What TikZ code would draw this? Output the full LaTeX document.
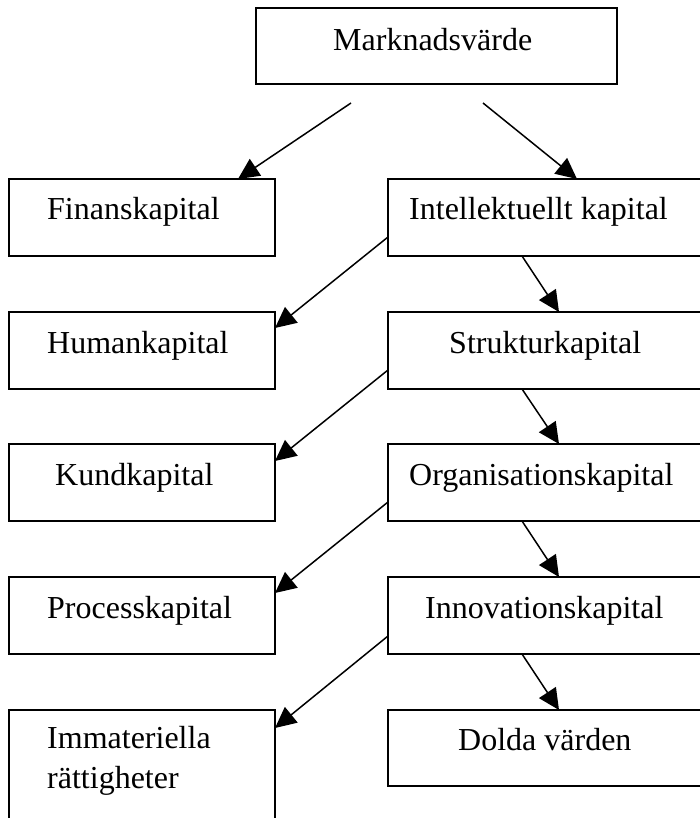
\documentclass[tikz,border=0pt]{standalone}
\usepackage{fontspec}
\setmainfont{Liberation Serif}
\usetikzlibrary{arrows.meta,calc}
\begin{document}
\begin{tikzpicture}[x=1pt,y=-1pt,
  box/.style={draw,line width=1.9pt,rectangle,inner sep=0pt,outer sep=0pt,anchor=north west},
  leftbox/.style={box,minimum width=266pt,minimum height=77pt},
  rightbox/.style={box,minimum width=322pt,minimum height=77pt},
  boxtext/.style={anchor=base west,inner sep=0pt,font=\fontsize{32}{40}\selectfont},
  link/.style={line width=1.5pt,-{Triangle[length=21pt,width=20pt]}}]
\useasboundingbox (0,0) rectangle (700,818);

% boxes
\node[box,minimum width=361pt,minimum height=76pt] (marknad) at (256,8) {};
\node[leftbox]  (finans)   at (9,179)   {};
\node[rightbox] (intel)    at (388,179) {};
\node[leftbox]  (human)    at (9,312)   {};
\node[rightbox] (struktur) at (388,312) {};
\node[leftbox]  (kund)     at (9,444)   {};
\node[rightbox] (organ)    at (388,444) {};
\node[leftbox]  (process)  at (9,577)   {};
\node[rightbox] (innov)    at (388,577) {};
\node[leftbox,minimum height=140pt] (immat) at (9,710) {};
\node[rightbox,minimum height=76pt] (dolda) at (388,710) {};

% labels
\node[boxtext] (marknad-t)  at (333,51)  {Marknadsvärde};
\node[boxtext] (finans-t)   at (47,220)  {Finanskapital};
\node[boxtext] (intel-t)    at (409,220) {Intellektuellt kapital};
\node[boxtext] (human-t)    at (47,353)  {Humankapital};
\node[boxtext] (struktur-t) at (449,353) {Strukturkapital};
\node[boxtext] (kund-t)     at (55,485)  {Kundkapital};
\node[boxtext] (organ-t)    at (409,485) {Organisationskapital};
\node[boxtext] (process-t)  at (47,618)  {Processkapital};
\node[boxtext] (innov-t)    at (425,618) {Innovationskapital};
\node[boxtext] (immat-t1)   at (47,748)  {Immateriella};
\node[boxtext] (immat-t2)   at (47,788)  {rättigheter};
\node[boxtext] (dolda-t)    at (458,750) {Dolda värden};

% free starting points of the connectors
\coordinate (m-left)  at ($(marknad.south west)+(95,19)$);
\coordinate (m-right) at ($(marknad.south west)+(227,19)$);
\coordinate (i-side)  at ($(intel.south west)+(0,-19)$);
\coordinate (s-side)  at ($(struktur.south west)+(0,-19)$);
\coordinate (o-side)  at ($(organ.south west)+(0,-19)$);
\coordinate (n-side)  at ($(innov.south west)+(0,-18)$);

% connectors
\draw[link] (m-left)  -- ($(finans.north east)+(-37,0)$);
\draw[link] (m-right) -- ($(intel.north west)+(189,0)$);
\draw[link] (i-side)  -- ($(human.north east)+(0,16)$);
\draw[link] (s-side)  -- ($(kund.north east)+(0,17)$);
\draw[link] (o-side)  -- ($(process.north east)+(0,16)$);
\draw[link] (n-side)  -- ($(immat.north east)+(0,18)$);
\draw[link] ($(intel.south west)+(134,0)$)    -- ($(struktur.north west)+(171,0)$);
\draw[link] ($(struktur.south west)+(134,0)$) -- ($(organ.north west)+(171,0)$);
\draw[link] ($(organ.south west)+(134,0)$)    -- ($(innov.north west)+(171,0)$);
\draw[link] ($(innov.south west)+(134,0)$)    -- ($(dolda.north west)+(171,0)$);
\end{tikzpicture}
\end{document}
